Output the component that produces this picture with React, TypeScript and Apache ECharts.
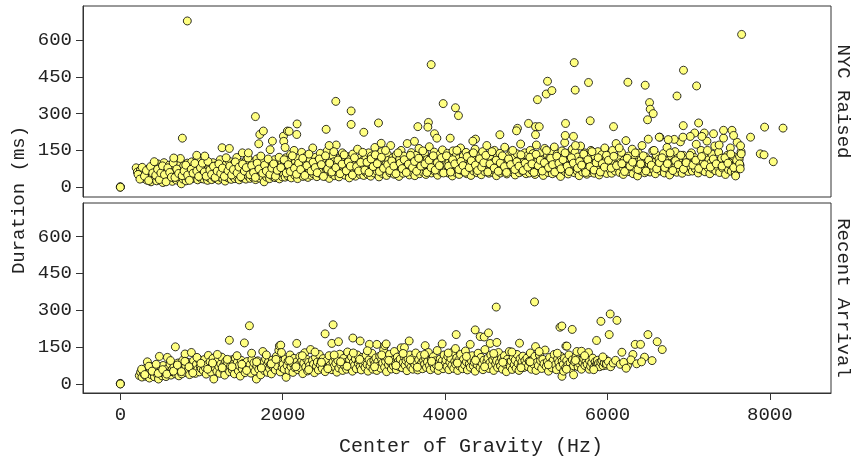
import React, { useEffect, useRef } from "react";
import * as echarts from "echarts";

const xTicks = [0, 2000, 4000, 6000, 8000];
const yTicks = [0, 150, 300, 450, 600];
const panelNames = ["NYC Raised", "Recent Arrival"];
const xTitle = "Center of Gravity (Hz)";
const yTitle = "Duration (ms)";

const nycRaisedPoints: number[][] = [
  [0, 0], [0, 2], [0, 0],
  [195,79],[210,62],[232,48],[248,70],[262,41],[275,55],[288,36],[300,66],[312,47],[325,29],[338,58],[344,74],[356,39],[365,52],[378,22],[386,63],[395,45],[402,88],[414,33],[423,57],[431,41],[440,70],[447,26],[455,50],[462,95],[470,38],[478,62],[486,44],[494,81],[501,30],[509,55],[516,68],[524,19],[531,47],[538,100],[546,36],[552,59],[560,42],[567,75],[574,27],[581,53],[589,64],[596,38],[603,90],[611,48],[618,31],[625,71],[633,56],[640,24],[647,44],[655,84],[662,37],[670,61],[677,50],[684,109],[692,29],[699,66],[706,45],[714,78],[721,35],[729,58],[736,92],[743,41],[751,14],[758,68],[766,52],[773,33],[780,87],[788,60],[795,43],[803,71],[810,26],[818,55],[825,98],[833,38],[840,64],[848,47],[855,80],[863,32],[870,58],[878,103],[885,44],[893,69],[900,36],[908,52],[915,85],[923,40],[930,62],[938,49],[945,118],[953,30],[960,74],[968,57],[975,42],[983,90],[990,65],[998,35],
  [1006,58],[1014,44],[1021,80],[1029,33],[1036,67],[1044,51],[1051,95],[1059,40],[1066,62],[1074,28],[1081,75],[1089,54],[1096,38],[1104,86],[1111,47],[1119,69],[1126,31],[1134,58],[1141,100],[1149,43],[1156,72],[1164,55],[1171,36],[1179,88],[1186,61],[1194,45],[1201,78],[1209,29],[1216,64],[1224,50],[1231,112],[1239,39],[1246,70],[1254,57],[1261,34],[1269,83],[1276,48],[1284,66],[1291,25],[1299,92],[1306,53],[1314,41],[1321,74],[1329,60],[1336,37],[1344,105],[1351,49],[1359,68],[1366,32],[1374,81],[1381,56],[1389,44],[1396,96],[1404,63],[1411,35],[1419,77],[1426,52],[1434,121],[1441,40],[1449,71],[1456,58],[1464,30],[1471,89],[1479,47],[1486,65],[1494,99],[1501,38],[1509,73],[1516,54],[1524,42],[1531,86],[1539,61],[1546,33],[1554,110],[1561,50],[1569,69],[1576,45],[1584,93],[1591,57],[1599,36],[1606,79],[1614,64],[1621,48],[1629,102],[1636,39],[1644,72],[1651,55],[1659,88],[1666,31],[1674,67],[1681,115],[1689,46],[1696,80],[1704,59],[1711,37],[1719,97],[1726,62],[1734,50],[1741,75],[1749,43],[1756,106],[1764,66],[1771,22],[1779,84],[1786,54],[1794,70],[1801,41],[1809,95],[1816,60],[1824,48],[1831,78],[1839,35],[1846,101],[1854,68],[1861,52],[1869,87],[1876,44],[1884,73],[1891,58],[1899,112],[1906,39],[1914,82],[1921,63],[1929,47],[1936,96],[1944,56],[1951,71],[1959,34],[1966,88],[1974,61],[1981,50],[1989,104],[1996,42],
  [2004,76],[2013,53],[2021,98],[2030,41],[2038,120],[2047,67],[2055,85],[2064,46],[2072,109],[2081,72],[2089,58],[2098,134],[2106,38],[2115,91],[2123,64],[2132,80],[2140,150],[2149,49],[2157,103],[2166,70],[2174,87],[2183,35],[2191,117],[2200,60],[2208,94],[2217,75],[2225,52],[2234,142],[2242,84],[2251,44],[2259,106],[2268,68],[2276,90],[2285,57],[2293,126],[2302,79],[2310,40],[2319,99],[2327,63],[2336,112],[2344,86],[2353,48],[2361,74],[2370,160],[2378,55],[2387,97],[2395,66],[2404,122],[2412,81],[2421,43],[2429,108],[2438,70],[2446,92],[2455,59],[2463,138],[2472,77],[2480,50],[2489,101],[2497,65],[2506,88],[2514,118],[2523,45],[2531,83],[2540,71],[2548,148],[2557,58],[2565,95],[2574,36],[2582,113],[2591,76],[2599,89],[2608,54],[2616,130],[2625,68],[2633,104],[2642,47],[2650,85],[2659,172],[2667,62],[2676,99],[2684,79],[2693,42],[2701,119],[2710,73],[2718,91],[2727,56],[2735,140],[2744,84],[2752,64],[2761,107],[2769,49],[2778,96],[2786,74],[2795,125],[2803,60],[2812,88],[2820,38],[2829,114],[2837,78],[2846,100],[2854,57],[2863,135],[2871,82],[2880,66],[2888,105],[2897,45],[2905,92],[2914,72],[2922,155],[2931,61],[2939,97],[2948,80],[2956,52],[2965,121],[2973,87],[2982,69],[2990,110],[2998,48],
  [3007,86],[3016,63],[3024,118],[3033,74],[3041,99],[3050,52],[3058,140],[3067,80],[3075,95],[3084,45],[3092,127],[3101,70],[3109,88],[3118,108],[3126,58],[3135,162],[3143,83],[3152,97],[3160,66],[3169,124],[3177,78],[3186,42],[3194,104],[3203,90],[3211,71],[3220,145],[3228,56],[3237,101],[3245,84],[3254,116],[3262,62],[3271,93],[3279,48],[3288,135],[3296,76],[3305,110],[3313,87],[3322,59],[3330,170],[3339,94],[3347,68],[3356,120],[3364,81],[3373,53],[3381,105],[3390,89],[3398,132],[3407,64],[3415,99],[3424,75],[3432,44],[3441,115],[3449,86],[3458,150],[3466,70],[3475,96],[3483,57],[3492,127],[3500,82],[3509,108],[3517,66],[3526,92],[3534,178],[3543,73],[3551,103],[3560,50],[3568,118],[3577,85],[3585,141],[3594,62],[3602,98],[3611,77],[3619,112],[3628,47],[3636,90],[3645,130],[3653,69],[3662,101],[3670,83],[3679,158],[3687,55],[3696,95],[3704,74],[3713,122],[3721,88],[3730,61],[3738,107],[3747,139],[3755,79],[3764,52],[3772,97],[3781,113],[3789,67],[3798,86],[3806,165],[3815,72],[3823,104],[3832,58],[3840,125],[3849,91],[3857,76],[3866,143],[3874,64],[3883,99],[3891,82],[3900,117],[3908,49],[3917,94],[3925,70],[3934,133],[3942,87],[3951,106],[3959,60],[3968,152],[3976,78],[3985,96],[3993,68],
  [4004,110],[4013,72],[4021,90],[4030,138],[4038,58],[4047,101],[4055,83],[4064,124],[4072,66],[4081,95],[4089,46],[4098,148],[4106,79],[4115,107],[4123,88],[4132,60],[4140,130],[4149,97],[4157,74],[4166,116],[4174,52],[4183,92],[4191,160],[4200,69],[4208,103],[4217,85],[4225,127],[4234,63],[4242,98],[4251,78],[4259,142],[4268,55],[4276,110],[4285,89],[4293,71],[4302,120],[4310,94],[4319,48],[4327,135],[4336,82],[4344,104],[4353,66],[4361,91],[4370,155],[4378,75],[4387,113],[4395,59],[4404,99],[4412,86],[4421,128],[4429,70],[4438,105],[4446,51],[4455,93],[4463,145],[4472,80],[4480,118],[4489,64],[4497,97],[4506,84],[4514,170],[4523,72],[4531,109],[4540,57],[4548,132],[4557,90],[4565,76],[4574,115],[4582,61],[4591,100],[4599,83],[4608,150],[4616,69],[4625,106],[4633,47],[4642,122],[4650,88],[4659,95],[4667,73],[4676,138],[4684,58],[4693,102],[4701,80],[4710,119],[4718,65],[4727,92],[4735,163],[4744,77],[4752,111],[4761,54],[4769,97],[4778,85],[4786,130],[4795,68],[4803,104],[4812,90],[4820,146],[4829,62],[4837,99],[4846,75],[4854,121],[4863,50],[4871,94],[4880,83],[4888,136],[4897,70],[4905,108],[4914,59],[4922,96],[4931,176],[4939,79],[4948,114],[4956,64],[4965,101],[4973,87],[4982,140],[4990,72],[4998,55],
  [5006,96],[5015,128],[5023,74],[5032,110],[5040,58],[5049,150],[5057,88],[5066,103],[5074,67],[5083,137],[5091,80],[5100,115],[5108,52],[5117,94],[5125,172],[5134,71],[5142,107],[5151,85],[5159,125],[5168,62],[5176,99],[5185,141],[5193,76],[5202,112],[5210,48],[5219,92],[5227,158],[5236,69],[5244,104],[5253,83],[5261,130],[5270,60],[5278,97],[5287,118],[5295,73],[5304,145],[5312,86],[5321,55],[5329,109],[5338,91],[5346,164],[5355,66],[5363,101],[5372,78],[5380,135],[5389,57],[5397,95],[5406,120],[5414,82],[5423,44],[5431,106],[5440,148],[5448,72],[5457,99],[5465,87],[5474,182],[5482,63],[5491,113],[5499,79],[5508,138],[5516,54],[5525,102],[5533,90],[5542,127],[5550,68],[5559,96],[5567,155],[5576,75],[5584,110],[5593,59],[5601,142],[5610,84],[5618,104],[5627,66],[5635,123],[5644,92],[5652,47],[5661,98],[5669,168],[5678,77],[5686,115],[5695,62],[5703,100],[5712,86],[5720,140],[5729,70],[5737,108],[5746,53],[5754,94],[5763,131],[5771,81],[5780,105],[5788,60],[5797,150],[5805,88],[5814,73],[5822,118],[5831,95],[5839,57],[5848,126],[5856,83],[5865,101],[5873,68],[5882,145],[5890,91],[5899,50],[5907,112],[5916,78],[5924,97],[5933,133],[5941,64],[5950,103],[5958,86],[5967,160],[5975,71],[5984,109],[5992,56],
  [6008,98],[6019,130],[6030,72],[6041,113],[6052,57],[6063,150],[6074,86],[6085,104],[6096,66],[6107,178],[6118,92],[6129,75],[6140,121],[6151,60],[6162,100],[6173,142],[6184,81],[6195,52],[6206,110],[6217,88],[6228,190],[6239,70],[6250,97],[6261,127],[6272,63],[6283,105],[6294,84],[6305,155],[6316,55],[6327,93],[6338,118],[6349,76],[6360,102],[6371,46],[6382,139],[6393,90],[6404,68],[6415,112],[6426,170],[6437,80],[6448,99],[6459,59],[6470,124],[6481,87],[6492,73],[6503,196],[6514,95],[6525,62],[6536,108],[6547,83],[6558,148],[6569,70],[6580,101],[6591,55],[6602,131],[6613,89],[6624,77],[6635,115],[6646,204],[6657,66],[6668,97],[6679,85],[6690,137],[6701,58],[6712,104],[6723,92],[6734,162],[6745,74],[6756,110],[6767,50],[6778,99],[6789,126],[6800,81],[6811,68],[6822,106],[6833,145],[6844,88],[6855,61],[6866,118],[6877,94],[6888,76],[6899,185],[6910,102],[6921,57],[6932,130],[6943,85],[6954,97],[6965,70],[6976,115],[6987,90],[6998,64],
  [7010,108],[7022,82],[7034,140],[7046,66],[7058,98],[7070,121],[7082,75],[7094,175],[7106,93],[7118,58],[7130,110],[7142,86],[7154,150],[7166,70],[7178,102],[7190,128],[7202,63],[7214,95],[7226,188],[7238,80],[7250,112],[7262,55],[7274,99],[7286,135],[7298,74],[7310,90],[7322,168],[7334,67],[7346,105],[7358,84],[7370,143],[7382,60],[7394,96],[7406,118],[7418,78],[7430,200],[7442,88],[7454,52],[7466,107],[7478,130],[7490,72],[7502,94],[7514,160],[7526,65],[7538,101],[7550,85],[7562,124],[7574,58],[7586,97],[7598,183],[7610,76],[7622,112],[7634,89],[7646,145],
  [218,52],[241,33],[269,81],[297,45],[321,68],[349,27],[372,84],[399,58],[418,104],[436,49],[459,73],[481,31],[499,58],[519,87],[543,51],[563,22],[585,79],[608,60],[629,41],[651,99],[673,40],[695,74],[718,56],[740,117],[762,47],[785,66],[806,90],[829,50],[851,28],[874,73],[896,57],[918,97],[942,66],[965,44],[987,79],
  [1011,98],[1034,62],[1057,45],[1079,105],[1102,70],[1124,52],[1147,85],[1168,40],[1192,66],[1214,95],[1237,56],[1258,78],[1281,44],[1303,120],[1326,67],[1348,86],[1371,50],[1393,72],[1416,103],[1438,58],[1461,82],[1483,43],[1506,94],[1528,66],[1551,80],[1573,119],[1596,51],[1618,88],[1641,60],[1663,40],[1686,98],[1708,74],[1731,127],[1753,57],[1776,90],[1798,66],[1821,115],[1843,52],[1866,78],[1888,95],[1911,45],[1933,69],[1956,122],[1978,80],
  [2017,112],[2043,58],[2068,92],[2094,64],[2119,128],[2145,77],[2170,53],[2196,98],[2221,72],[2247,118],[2272,48],[2298,88],[2323,135],[2349,66],[2374,102],[2400,80],[2425,59],[2451,115],[2476,92],[2502,44],[2527,128],[2553,74],[2578,98],[2604,62],[2629,145],[2655,80],[2680,111],[2706,55],[2731,94],[2757,132],[2782,67],[2808,103],[2833,86],[2859,50],[2884,120],[2910,84],[2935,66],[2961,101],[2986,142],
  [3012,70],[3038,102],[3063,60],[3089,115],[3114,84],[3140,132],[3165,96],[3191,64],[3216,122],[3242,77],[3267,150],[3293,92],[3318,68],[3344,107],[3369,86],[3395,55],[3420,140],[3446,98],[3471,76],[3497,112],[3522,60],[3548,94],[3573,130],[3599,80],[3624,105],[3650,65],[3675,118],[3701,86],[3726,148],[3752,95],[3777,60],[3803,110],[3828,80],[3854,128],[3879,70],[3905,100],[3930,88],[3956,120],[3981,58],
  [4017,128],[4043,86],[4068,62],[4094,112],[4119,95],[4145,150],[4170,72],[4196,105],[4221,88],[4247,61],[4272,125],[4298,80],[4323,108],[4349,140],[4374,90],[4400,68],[4425,116],[4451,82],[4476,100],[4502,130],[4527,62],[4553,95],[4578,145],[4604,78],[4629,110],[4655,65],[4680,99],[4706,128],[4731,84],[4757,60],[4782,115],[4808,92],[4833,150],[4859,72],[4884,104],[4910,86],[4935,132],[4961,68],[4986,98],
  [5019,82],[5045,122],[5070,95],[5096,60],[5121,134],[5147,88],[5172,110],[5198,66],[5223,100],[5249,150],[5274,80],[5300,118],[5325,92],[5351,62],[5376,126],[5402,98],[5427,75],[5453,112],[5478,140],[5504,86],[5529,64],[5555,120],[5580,98],[5606,170],[5631,78],[5657,105],[5682,90],[5708,135],[5733,60],[5759,112],[5784,84],[5810,145],[5835,70],[5861,100],[5886,120],[5912,62],[5937,96],[5963,82],[5988,130],
  [6013,110],[6046,78],[6079,126],[6112,88],[6145,160],[6178,96],[6211,64],[6244,118],[6277,86],[6310,102],[6343,140],[6376,72],[6409,95],[6442,128],[6475,66],[6508,110],[6541,90],[6574,150],[6607,75],[6640,100],[6673,120],[6706,80],[6739,96],[6772,140],[6805,68],[6838,108],[6871,92],[6904,130],[6937,74],[6970,100],
  [7016,130],[7052,90],[7088,110],[7124,76],[7160,125],[7196,92],[7232,150],[7268,82],[7304,115],[7340,95],[7376,172],[7412,86],[7448,120],[7484,98],[7520,135],[7556,80],[7592,110],[7628,125],
  [825,678],[764,200],[1664,288],[1718,215],[1762,229],[1705,177],[1873,188],[1253,161],[1343,158],[1503,140],[1577,140],[941,130],[1040,127],[658,119],[2009,208],[2058,229],[2013,187],[2030,162],[2177,258],[2173,215],[1845,153],[2079,228],[3829,500],[2654,350],[2843,311],[2843,256],[2999,224],[3180,262],[2535,236],[3977,341],[4128,324],[4165,292],[3795,264],[3788,245],[3665,247],[3870,218],[3899,200],[5591,508],[5603,396],[5262,432],[5246,380],[5316,394],[5138,357],[5028,260],[4892,240],[5114,247],[5160,247],[5484,260],[4675,214],[4375,196],[4342,188],[4063,200],[3623,187],[3213,179],[2572,170],[5480,211],[5582,207],[4880,230],[5114,214],[7653,623],[5767,427],[6252,428],[6465,416],[6937,477],[7098,413],[6857,372],[6519,345],[6527,318],[6564,300],[6494,275],[5788,271],[6075,247],[6934,251],[7123,262],[7936,245],[8163,241],[7763,204],[7883,136],[7929,132],[8043,104],[7430,232],[7534,232],[7554,211],[7307,218],[7193,221],[7164,207],[7074,221],[7020,207],[6930,204],[6823,195],[6749,194],[6638,204],[7640,169],[7648,136],[7628,95],[7636,75],[7579,46]
];

const recentArrivalPoints: number[][] = [
  [0, 0], [0, 2], [0, 0],
  [234,34],[250,48],[266,28],[276,55],[290,40],[305,62],[318,31],[333,90],[345,46],[358,24],[370,58],[383,37],[396,70],[408,44],[420,29],[433,52],[445,66],[458,38],[470,20],[481,112],[490,47],[502,60],[514,33],[527,75],[539,42],[551,56],[563,30],[579,108],[588,64],[600,45],[612,81],[624,36],[637,58],[649,49],[660,70],[678,151],[685,40],[697,62],[709,85],[721,33],[733,54],[745,68],[757,41],[769,96],[781,57],[797,122],[805,73],[817,46],[829,88],[841,60],[853,38],[875,128],[877,77],[889,52],[901,94],[913,66],[925,43],[937,80],[949,58],[961,101],[973,49],[985,71],[997,62],
  [1009,84],[1021,55],[1033,99],[1045,67],[1057,40],[1069,78],[1084,116],[1093,61],[1105,90],[1117,48],[1129,73],[1141,104],[1151,20],[1165,66],[1177,87],[1189,52],[1201,95],[1213,70],[1225,43],[1237,81],[1249,109],[1261,59],[1273,76],[1285,36],[1297,92],[1309,64],[1321,85],[1343,178],[1345,50],[1357,72],[1369,98],[1381,56],[1393,80],[1405,41],[1417,105],[1429,67],[1441,88],[1453,53],[1465,75],[1477,32],[1489,96],[1501,62],[1513,83],[1528,167],[1537,46],[1549,70],[1561,91],[1573,58],[1590,237],[1597,78],[1609,44],[1621,100],[1633,65],[1645,86],[1657,52],[1676,20],[1681,73],[1693,94],[1705,60],[1717,81],[1729,37],[1741,69],[1755,132],[1765,88],[1777,54],[1789,102],[1801,74],[1813,47],[1825,90],[1837,63],[1849,79],[1861,41],[1873,97],[1885,68],[1897,84],[1909,57],[1921,112],[1933,73],[1952,137],[1959,155],[1976,158],[1969,49],[1981,92],[1993,66],
  [2005,80],[2018,60],[2030,101],[2042,27],[2054,75],[2066,93],[2078,55],[2090,118],[2102,70],[2114,86],[2126,47],[2138,104],[2150,66],[2173,165],[2175,90],[2187,58],[2199,79],[2211,112],[2223,64],[2235,95],[2247,42],[2259,85],[2271,127],[2283,69],[2295,100],[2307,53],[2319,88],[2331,74],[2343,140],[2355,61],[2367,96],[2379,80],[2391,46],[2403,108],[2415,72],[2427,89],[2439,57],[2451,120],[2463,78],[2475,92],[2487,63],[2499,103],[2522,204],[2523,50],[2535,83],[2547,97],[2559,68],[2571,115],[2583,76],[2605,165],[2621,241],[2607,58],[2619,90],[2631,71],[2643,106],[2655,84],[2667,48],[2687,172],[2679,96],[2691,65],[2703,121],[2715,79],[2727,93],[2739,55],[2751,104],[2763,73],[2775,87],[2787,60],[2799,130],[2811,81],[2823,98],[2835,66],[2847,110],[2864,187],[2859,52],[2871,89],[2883,75],[2895,102],[2907,62],[2919,118],[2931,84],[2954,175],[2943,95],[2955,70],[2967,57],[2979,108],[2991,80],
  [3003,93],[3015,67],[3027,116],[3039,79],[3051,52],[3068,161],[3063,98],[3075,73],[3087,88],[3099,125],[3111,60],[3123,95],[3135,82],[3147,106],[3160,161],[3159,55],[3171,90],[3183,72],[3195,113],[3207,64],[3219,99],[3231,85],[3243,140],[3258,156],[3274,163],[3255,68],[3267,92],[3279,50],[3291,104],[3303,78],[3315,120],[3327,88],[3339,61],[3351,97],[3363,74],[3375,132],[3387,83],[3399,58],[3411,109],[3423,91],[3435,70],[3447,101],[3459,147],[3471,66],[3483,87],[3500,148],[3495,112],[3507,76],[3519,95],[3531,54],[3543,102],[3558,175],[3555,82],[3567,118],[3579,69],[3591,93],[3603,60],[3615,107],[3627,79],[3639,126],[3651,88],[3663,57],[3675,99],[3687,73],[3699,115],[3711,85],[3723,62],[3735,96],[3755,156],[3747,80],[3759,104],[3771,67],[3783,90],[3795,128],[3807,75],[3819,58],[3831,98],[3843,84],[3855,111],[3867,64],[3879,94],[3891,78],[3903,136],[3915,55],[3927,89],[3939,101],[3964,163],[3951,72],[3963,93],[3975,62],[3987,118],[3999,82],
  [4011,97],[4023,70],[4035,112],[4047,58],[4059,88],[4071,104],[4083,75],[4095,130],[4107,63],[4128,144],[4137,201],[4119,92],[4131,80],[4143,106],[4155,55],[4167,96],[4179,73],[4191,120],[4203,86],[4215,62],[4227,100],[4239,78],[4251,134],[4263,90],[4275,57],[4287,109],[4299,82],[4310,161],[4311,68],[4323,95],[4335,115],[4347,74],[4359,88],[4371,220],[4371,52],[4383,102],[4395,79],[4407,125],[4433,193],[4419,93],[4431,66],[4482,191],[4443,108],[4455,84],[4467,58],[4479,97],[4491,140],[4503,72],[4515,90],[4535,208],[4527,105],[4539,63],[4556,165],[4551,86],[4563,118],[4575,75],[4587,98],[4599,55],[4611,110],[4630,313],[4638,169],[4623,82],[4635,94],[4647,67],[4659,128],[4671,88],[4683,73],[4695,104],[4707,60],[4719,96],[4731,115],[4743,80],[4755,50],[4767,100],[4779,86],[4791,132],[4803,70],[4815,93],[4827,59],[4839,109],[4851,78],[4863,97],[4875,64],[4887,120],[4899,83],[4917,166],[4911,55],[4923,102],[4935,74],[4947,90],[4959,113],[4971,67],[4983,95],[4995,80],
  [5008,105],[5022,70],[5036,92],[5050,126],[5064,60],[5078,98],[5102,334],[5092,80],[5114,152],[5106,112],[5120,55],[5134,88],[5148,74],[5162,118],[5176,95],[5190,63],[5204,100],[5218,82],[5232,138],[5246,71],[5260,90],[5274,52],[5288,108],[5302,85],[5316,66],[5330,96],[5344,120],[5358,78],[5372,58],[5386,102],[5415,231],[5439,236],[5400,88],[5414,70],[5428,112],[5440,31],[5442,92],[5460,52],[5456,80],[5470,104],[5488,154],[5484,66],[5501,154],[5498,95],[5512,77],[5526,118],[5540,86],[5566,222],[5554,62],[5568,98],[5583,37],[5582,74],[5596,90],[5610,108],[5624,132],[5638,70],[5652,84],[5681,133],[5666,96],[5680,60],[5694,88],[5708,102],[5722,75],[5736,92],[5767,128],[5750,80],[5776,60],[5778,95],[5792,72],[5806,86],[5820,105],[5834,68],[5866,177],[5848,90],[5862,78],[5878,79],[5876,96],[5890,84],[5920,255],[5904,70],[5918,88],[5932,95],[5946,74],[5960,86],[5985,76],[5974,100],[5988,82],
  [6022,201],[6034,285],[6117,259],[6010,92],[6040,70],[6070,85],[6100,96],[6158,80],[6178,129],[6248,75],[6200,88],[6230,64],[6314,120],[6342,161],[6408,161],[6290,98],[6360,82],[6457,109],[6499,201],[6613,172],[6675,140],[6420,90],[6550,95],
  [262,60],[301,38],[352,72],[391,52],[441,80],[466,43],[521,58],[572,40],[618,95],[655,52],[703,77],[752,50],[795,92],[846,70],[893,45],[944,108],[992,84],
  [1075,60],[1136,85],[1195,120],[1255,66],[1318,100],[1376,70],[1437,115],[1496,80],[1555,55],[1617,125],[1678,90],[1737,65],[1799,118],[1858,82],[1917,100],[1985,128],
  [2084,96],[2163,70],[2242,115],[2320,58],[2398,130],[2477,88],[2556,62],[2634,118],[2713,90],[2792,72],[2870,126],[2949,100],
  [3043,135],[3131,70],[3219,118],[3307,96],[3395,75],[3483,124],[3571,98],[3659,68],[3747,120],[3835,92],[3923,72],
  [4039,126],[4151,85],[4263,112],[4375,96],[4487,70],[4599,124],[4711,88],[4823,130],[4935,66],
  [5047,90],[5159,132],[5271,78],[5383,125],[5495,60],[5607,96],[5719,115],[5831,58],[5943,110]
];

const FONT = '"Courier New", "Liberation Mono", monospace';
const TEXT_COLOR = "#222";
const LINE_COLOR = "#333";

export default function App() {
  const ref = useRef<HTMLDivElement>(null);
  useEffect(() => {
    if (!ref.current) return;
    const chart = echarts.init(ref.current, undefined, { renderer: "svg" });
    const gridLeft = 83;
    const gridWidth = 748;
    const grids = [
      { left: gridLeft, top: 6, width: gridWidth, height: 191 },
      { left: gridLeft, top: 203, width: gridWidth, height: 190 },
    ];
    const yRanges = [
      [-40, 739],
      [-37, 737],
    ];
    const option: any = {
      animation: false,
      grid: grids.map((g) => ({
        ...g,
        show: true,
        borderColor: LINE_COLOR,
        borderWidth: 1,
        backgroundColor: "transparent",
      })),
      xAxis: [0, 1].map((i) => ({
        gridIndex: i,
        type: "value",
        min: -460,
        max: 8754,
        axisLine: { show: i === 1, onZero: false, lineStyle: { color: LINE_COLOR } },
        axisTick: {
          show: i === 1,
          length: 7,
          customValues: xTicks,
          lineStyle: { color: LINE_COLOR },
        },
        axisLabel: {
          show: i === 1,
          customValues: xTicks,
          formatter: (v: number) => String(v),
          fontFamily: FONT,
          fontSize: 19,
          color: TEXT_COLOR,
          margin: 12,
        },
        splitLine: { show: false },
      })),
      yAxis: [0, 1].map((i) => ({
        gridIndex: i,
        type: "value",
        min: yRanges[i][0],
        max: yRanges[i][1],
        axisLine: { show: true, onZero: false, lineStyle: { color: LINE_COLOR } },
        axisTick: {
          show: true,
          length: 7,
          customValues: yTicks,
          lineStyle: { color: LINE_COLOR },
        },
        axisLabel: {
          customValues: yTicks,
          formatter: (v: number) => String(v),
          fontFamily: FONT,
          fontSize: 19,
          color: TEXT_COLOR,
          margin: 11,
        },
        splitLine: { show: false },
      })),
      series: [nycRaisedPoints, recentArrivalPoints].map((pts, i) => ({
        type: "scatter",
        xAxisIndex: i,
        yAxisIndex: i,
        data: pts,
        symbol: "circle",
        symbolSize: 8,
        itemStyle: {
          color: "#ffff80",
          borderColor: "#000",
          borderWidth: 0.8,
          opacity: 1,
        },
      })),
      graphic: [
        {
          type: "text",
          x: 19,
          y: 200,
          rotation: Math.PI / 2,
          style: {
            text: yTitle,
            font: `19px ${FONT}`,
            fill: TEXT_COLOR,
            align: "center",
            verticalAlign: "middle",
          },
        },
        {
          type: "text",
          x: 471,
          y: 446,
          style: {
            text: xTitle,
            font: `20px ${FONT}`,
            fill: TEXT_COLOR,
            align: "center",
            verticalAlign: "middle",
          },
        },
        ...panelNames.map((name, i) => ({
          type: "text",
          x: 843,
          y: grids[i].top + grids[i].height / 2,
          rotation: -Math.PI / 2,
          style: {
            text: name,
            font: `19px ${FONT}`,
            fill: TEXT_COLOR,
            align: "center",
            verticalAlign: "middle",
          },
        })),
      ],
    };
    chart.setOption(option);
    return () => chart.dispose();
  }, []);
  return (
    <div
      ref={ref}
      style={{ position: "fixed", left: 0, top: 0, width: 854, height: 460 }}
    />
  );
}
